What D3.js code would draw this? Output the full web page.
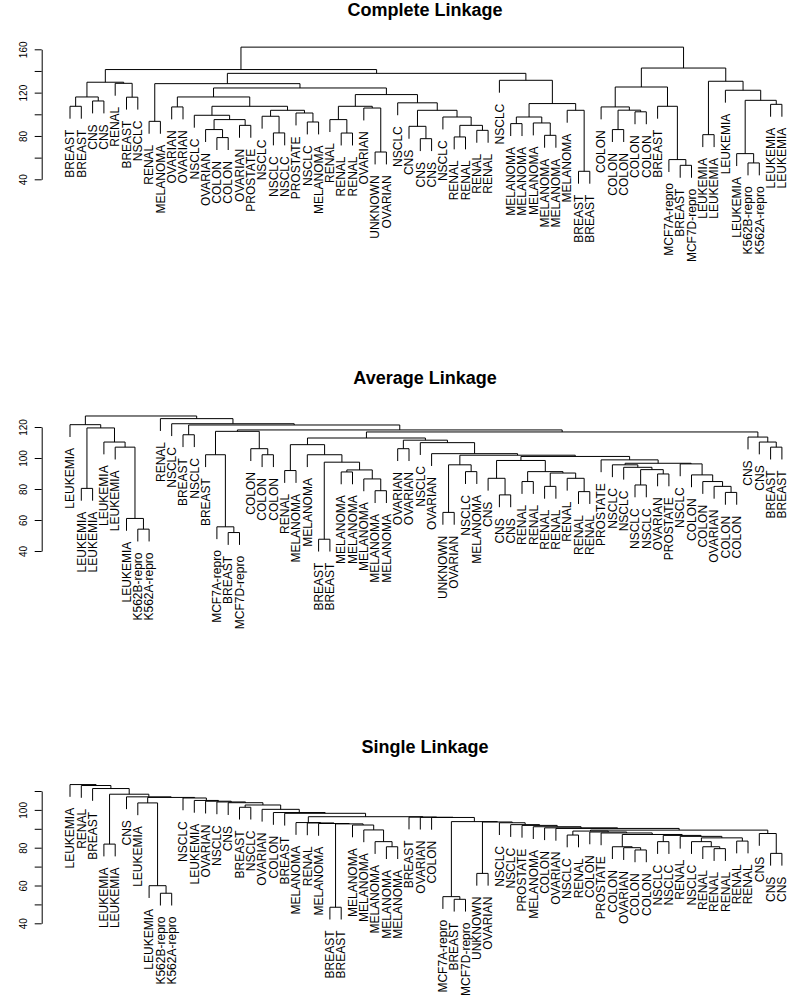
<!DOCTYPE html>
<html>
<head>
<meta charset="utf-8">
<script src="https://cdn.jsdelivr.net/npm/d3@7"></script>
<style>
  body { margin: 0; background: #fff; }
  svg { display: block; }
  text { font-family: "Liberation Sans", Arial, Helvetica, sans-serif; }
</style>
</head>
<body>
<script>
// leaf labels in plotting order, one list per linkage
const completeLabels = ["BREAST","BREAST","CNS","CNS","RENAL","BREAST","NSCLC","RENAL","MELANOMA","OVARIAN",
  "OVARIAN","NSCLC","OVARIAN","COLON","COLON","OVARIAN","PROSTATE","NSCLC","NSCLC","NSCLC",
  "PROSTATE","NSCLC","MELANOMA","RENAL","RENAL","RENAL","OVARIAN","UNKNOWN","OVARIAN","NSCLC",
  "CNS","CNS","CNS","NSCLC","RENAL","RENAL","RENAL","RENAL","NSCLC","MELANOMA",
  "MELANOMA","MELANOMA","MELANOMA","MELANOMA","MELANOMA","BREAST","BREAST","COLON","COLON","COLON",
  "COLON","COLON","BREAST","MCF7A-repro","BREAST","MCF7D-repro","LEUKEMIA","LEUKEMIA","LEUKEMIA","LEUKEMIA",
  "K562B-repro","K562A-repro","LEUKEMIA","LEUKEMIA"];

const averageLabels = ["LEUKEMIA","LEUKEMIA","LEUKEMIA","LEUKEMIA","LEUKEMIA","LEUKEMIA","K562B-repro","K562A-repro","RENAL","NSCLC",
  "BREAST","NSCLC","BREAST","MCF7A-repro","BREAST","MCF7D-repro","COLON","COLON","COLON","RENAL",
  "MELANOMA","MELANOMA","BREAST","BREAST","MELANOMA","MELANOMA","MELANOMA","MELANOMA","MELANOMA","OVARIAN",
  "OVARIAN","NSCLC","OVARIAN","UNKNOWN","OVARIAN","NSCLC","MELANOMA","CNS","CNS","CNS",
  "RENAL","RENAL","RENAL","RENAL","RENAL","RENAL","RENAL","PROSTATE","NSCLC","NSCLC",
  "NSCLC","NSCLC","OVARIAN","PROSTATE","NSCLC","COLON","COLON","OVARIAN","COLON","COLON",
  "CNS","CNS","BREAST","BREAST"];

const singleLabels = ["LEUKEMIA","RENAL","BREAST","LEUKEMIA","LEUKEMIA","CNS","LEUKEMIA","LEUKEMIA","K562B-repro","K562A-repro",
  "NSCLC","LEUKEMIA","OVARIAN","NSCLC","CNS","BREAST","NSCLC","OVARIAN","COLON","BREAST",
  "MELANOMA","RENAL","MELANOMA","BREAST","BREAST","MELANOMA","MELANOMA","MELANOMA","MELANOMA","MELANOMA",
  "BREAST","OVARIAN","COLON","MCF7A-repro","BREAST","MCF7D-repro","UNKNOWN","OVARIAN","NSCLC","NSCLC",
  "PROSTATE","MELANOMA","COLON","OVARIAN","NSCLC","RENAL","COLON","PROSTATE","COLON","OVARIAN",
  "COLON","COLON","NSCLC","NSCLC","RENAL","NSCLC","RENAL","RENAL","RENAL","RENAL",
  "RENAL","CNS","CNS","CNS"];

// clusters: [first leaf, last leaf, merge height]
const completeMerges = [
  [1,2,107.4],[3,4,112.3],[1,4,116.0],[6,7,115.8],[5,7,128.6],[1,7,129.6],
  [8,9,93.5],[10,11,106.8],[14,15,78.5],[13,15,85.9],[16,17,89.8],[13,17,95.1],[12,17,99.1],
  [19,20,82.8],[18,20,98.2],[22,23,92.9],[21,23,101.2],[18,23,103.7],[12,23,107.4],[10,23,116.0],
  [25,26,82.7],[24,26,95.1],[28,29,65.2],[27,29,105.8],[24,29,107.4],
  [32,33,77.5],[31,33,88.9],[35,36,79.1],[37,38,85.2],[35,38,89.8],[34,38,97.5],[31,38,103.7],
  [30,38,110.6],[24,38,118.2],[10,38,124.3],[8,38,128.3],
  [40,41,91.4],[43,44,80.6],[42,44,92.0],[40,44,97.5],[46,47,47.4],[45,47,103.7],[40,47,109.9],
  [39,47,131.4],[8,47,137.8],[1,47,141.3],
  [49,50,85.9],[51,52,102.3],[49,52,103.8],[48,52,106.8],[55,56,52.9],[54,56,58.2],[53,56,107.4],
  [48,56,125.2],[57,58,81.2],[61,62,55.1],[60,62,63.7],[63,64,109.2],[60,64,112.9],[59,64,122.2],
  [57,64,130.5],[48,64,142.7],[1,64,162.0]
];

const averageMerges = [
  [7,8,54.1],[6,8,61.0],[5,8,107.0],[4,8,110.3],[2,3,80.4],[2,8,119.4],[1,8,121.5],
  [11,12,115.0],[15,16,51.9],[14,16,55.6],[13,16,102.1],[18,19,102.1],[17,19,106.0],[13,19,117.2],
  [20,21,91.9],[23,24,47.6],[25,26,91.0],[28,29,78.9],[27,29,86.5],[25,29,92.3],[23,29,97.3],
  [22,29,102.1],[20,29,108.6],[30,31,106.0],
  [34,35,64.9],[36,37,91.2],[34,37,95.6],[39,40,76.2],[38,40,86.9],[41,42,84.8],[43,44,81.7],
  [46,47,78.3],[45,47,86.9],[43,47,90.3],[41,47,91.2],[38,47,98.4],
  [51,52,82.6],[53,54,89.7],[51,54,92.5],[50,54,94.0],[49,54,95.6],
  [59,60,77.8],[58,60,81.7],[57,60,84.8],[56,60,89.1],[55,60,96.2],[49,60,96.6],[48,60,98.8],
  [38,60,101.0],[34,60,101.8],[33,60,102.8],[32,60,109.9],[30,60,111.5],[20,60,112.9],
  [63,64,107.0],[62,64,110.3],[61,64,113.5],[20,64,116.8],[13,64,118.1],[11,64,121.3],
  [10,64,122.1],[9,64,125.4],[1,64,127.1]
];

const singleMerges = [
  [4,5,81.9],[9,10,55.9],[8,10,59.9],[7,10,103.7],[16,17,101.4],
  [24,25,48.5],[29,30,80.5],[28,30,83.2],[27,30,89.4],[26,30,92.0],[24,30,92.6],[23,30,92.8],
  [22,30,93.1],[21,30,93.3],
  [35,36,52.7],[34,36,54.1],[37,38,66.4],
  [45,46,86.7],[51,52,78.8],[50,52,80.0],[49,52,80.5],[53,54,83.2],[58,59,79.5],[57,59,80.5],
  [56,59,83.2],[60,61,83.5],[56,61,85.2],[55,61,86.0],[53,61,86.5],[49,61,87.0],[48,61,87.8],
  [47,61,88.3],[45,61,88.8],[63,64,77.0],[62,64,87.5],[45,64,89.3],
  [44,64,90.2],[43,64,90.5],[42,64,91.1],[41,64,91.8],[40,64,92.2],[39,64,93.2],[37,64,93.6],
  [34,64,93.8],[33,64,96.0],[32,64,96.1],[31,64,96.2],[21,64,96.4],[20,64,98.2],[19,64,98.6],
  [18,64,100.3],[16,64,102.6],[15,64,103.8],[14,64,104.2],[13,64,104.6],[12,64,105.0],
  [11,64,106.3],[7,64,106.6],[6,64,106.9],[4,64,108.3],[3,64,111.3],[2,64,112.9],[1,64,113.4]
];

const completeTicks = [40, 60, 80, 100, 120, 140, 160];
const completeTickLabels = [40, 80, 120, 160];
const averageTicks = [40, 60, 80, 100, 120];
const averageTickLabels = [40, 60, 80, 100, 120];
const singleTicks = [40, 50, 60, 70, 80, 90, 100, 110];
const singleTickLabels = [40, 60, 80, 100];

const W = 797, H = 1003;
const svg = d3.select("body").append("svg").attr("width", W).attr("height", H);

const panels = [
  { title: "Complete Linkage", labels: completeLabels, merges: completeMerges,
    ticks: completeTicks, tickLabels: completeTickLabels, titleY: 15.5, y40: 179.3, yTopPx: 49.3 },
  { title: "Average Linkage", labels: averageLabels, merges: averageMerges,
    ticks: averageTicks, tickLabels: averageTickLabels, titleY: 383.5, y40: 551, yTopPx: 427 },
  { title: "Single Linkage", labels: singleLabels, merges: singleMerges,
    ticks: singleTicks, tickLabels: singleTickLabels, titleY: 752.7, y40: 923.3, yTopPx: 791 }
];

// turn the list of leaf ranges into a binary tree
function buildTree(labels, merges) {
  const top = labels.map((name, i) => ({ lo: i + 1, hi: i + 1, name }));
  const nodes = merges.map(([lo, hi, h]) => ({ lo, hi, h }))
    .sort((a, b) => (a.hi - a.lo) - (b.hi - b.lo));
  nodes.forEach(nd => {
    const a = top[nd.lo - 1], b = top[a.hi];
    if (!b || b.hi !== nd.hi) console.warn("bad merge", nd.lo, nd.hi);
    nd.children = [a, b];
    for (let i = nd.lo; i <= nd.hi; i++) top[i - 1] = nd;
  });
  return d3.hierarchy(top[0]);
}

function drawPanel(p) {
  const root = buildTree(p.labels, p.merges);
  const hs = p.merges.map(m => m[2]);
  const hang = 0.1 * (d3.max(hs) - d3.min(hs));

  const x = d3.scaleLinear().domain([1, p.labels.length]).range([70, 781.9]);
  const y = d3.scaleLinear()
    .domain([p.ticks[0], p.ticks[p.ticks.length - 1]])
    .range([p.y40, p.yTopPx]);

  root.eachAfter(n => {
    if (n.children) {
      n.px = (n.children[0].px + n.children[1].px) / 2;
      n.py = y(n.data.h);
    } else {
      n.px = x(n.data.lo);
    }
  });
  root.leaves().forEach(l => { l.py = y(l.parent.data.h - hang); });

  const g = svg.append("g");

  g.selectAll("path")
    .data(root.descendants().filter(n => n.children))
    .join("path")
    .attr("d", n => {
      const [a, b] = n.children;
      return `M${a.px},${a.py}V${n.py}H${b.px}V${b.py}`;
    })
    .attr("fill", "none")
    .attr("stroke", "#000")
    .attr("stroke-width", 1);

  g.selectAll("text")
    .data(root.leaves())
    .join("text")
    .attr("transform", l => `translate(${l.px},${l.py + 11}) rotate(-90)`)
    .attr("text-anchor", "end")
    .attr("dy", "0.35em")
    .attr("font-size", 12)
    .text(l => l.data.name);

  const axis = d3.axisLeft(y)
    .tickValues(p.ticks)
    .tickSize(7)
    .tickSizeOuter(0)
    .tickFormat(d => p.tickLabels.includes(d) ? d : "");

  const ag = svg.append("g")
    .attr("transform", "translate(41.7,0)")
    .attr("font-size", 12)
    .attr("font-family", "Liberation Sans, Arial, sans-serif")
    .call(axis);

  ag.selectAll(".tick text")
    .attr("transform", "rotate(-90)")
    .attr("x", 0)
    .attr("y", -15)
    .attr("dy", 0)
    .attr("text-anchor", "middle");

  svg.append("text")
    .attr("x", 425)
    .attr("y", p.titleY)
    .attr("text-anchor", "middle")
    .attr("font-weight", "bold")
    .attr("font-size", 18)
    .text(p.title);
}

panels.forEach(drawPanel);
</script>
</body>
</html>
